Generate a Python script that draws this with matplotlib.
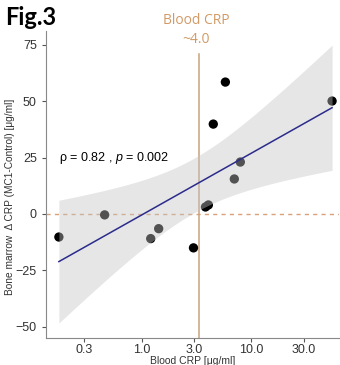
import numpy as np
import matplotlib
matplotlib.use("Agg")
import matplotlib.pyplot as plt

# data
blood_crp = [0.176, 0.46, 1.21, 1.43, 2.97, 3.82, 4.06, 4.5, 5.8, 7.0, 7.94, 54.5]
bm_delta_crp = [-10.2, -0.4, -10.9, -6.5, -15.0, 3.1, 4.0, 39.8, 58.4, 15.5, 23.0, 50.0]
xticks = [0.3, 1.0, 3.0, 10.0, 30.0]
yticks = [-50, -25, 0, 25, 50, 75]
cutoff = 3.32

plt.rcParams['font.family'] = ['Liberation Sans', 'DejaVu Sans']
plt.rcParams['mathtext.fontset'] = 'custom'
plt.rcParams['mathtext.it'] = 'Liberation Sans:italic'

fig = plt.figure(figsize=(3.4, 3.65), dpi=100)
ax = fig.add_axes([0.135, 0.074, 0.862, 0.841])

x = np.log10(blood_crp)
y = np.array(bm_delta_crp)

# linear fit on log10 x with 95% confidence band
n = len(x)
b, a = np.polyfit(x, y, 1)
xs = np.linspace(x.min(), x.max(), 200)
ys = a + b * xs
resid = y - (a + b * x)
s = np.sqrt(np.sum(resid ** 2) / (n - 2))
se = s * np.sqrt(1 / n + (xs - x.mean()) ** 2 / np.sum((x - x.mean()) ** 2))
t = 2.228
ax.scatter(10 ** x, y, s=45, color='black', zorder=2, edgecolors='none')
ax.fill_between(10 ** xs, ys - t * se, ys + t * se, color='#c4c4c4', alpha=0.42,
                linewidth=0, zorder=3)
ax.plot(10 ** xs, ys, color='#2b2b8c', lw=1.1, zorder=4)

ax.axhline(0, color='#d9a07a', lw=1, ls=(0, (3, 3)), zorder=1)
ax.plot([cutoff, cutoff], [-55, 71], color='#c9a27e', lw=1.1, zorder=1)

ax.set_xscale('log')
ax.set_xlim(0.134, 63)
ax.set_ylim(-54.9, 81)
ax.set_xticks(xticks)
ax.set_xticklabels(['%.1f' % v for v in xticks])
ax.minorticks_off()
ax.set_yticks(yticks)
ax.tick_params(labelsize=9, colors='#555555', length=3, labelcolor='#333333')
ax.tick_params(axis='x', pad=1.5)
for sp in ['top', 'right']:
    ax.spines[sp].set_visible(False)
for sp in ['left', 'bottom']:
    ax.spines[sp].set_color('#888888')

ax.set_xlabel('Blood CRP [μg/ml]', fontsize=7.5, color='#333333', labelpad=0)
ax.set_ylabel('Bone marrow  Δ CRP (MC1-Control) [μg/ml]', fontsize=7.3,
              color='#333333')
ax.yaxis.set_label_coords(-0.105, 0.46)

ax.text(0.175, 25, 'ρ = 0.82 , $p$ = 0.002', fontsize=9, color='black',
        va='center', ha='left')

fig.text(0.015, 0.952, 'Fig.3', fontsize=17, fontweight='bold', family='Lato',
         va='center', ha='left')
fig.text(0.577, 0.918, 'Blood CRP\n~4.0', fontsize=10, color='#d19a66',
         family='Open Sans', ha='center', va='center', linespacing=1.35)

fig.savefig('out.png', dpi=100)
